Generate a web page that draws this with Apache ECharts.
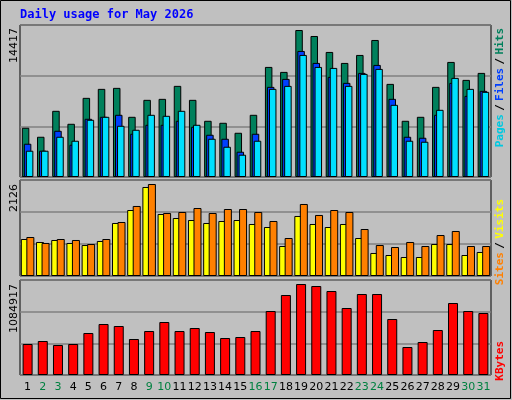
<!DOCTYPE html>
<html><head><meta charset="utf-8">
<script src="https://cdn.jsdelivr.net/npm/echarts@6/dist/echarts.min.js"></script>
<style>html,body{margin:0;padding:0;background:#c0c0c0}#c{width:512px;height:400px}</style>
</head><body><div id="c"></div>
<script>
const days = ['1','2','3','4','5','6','7','8','9','10','11','12','13','14','15','16','17','18','19','20','21','22','23','24','25','26','27','28','29','30','31'];
const weekend = ['2','3','9','10','16','17','23','24','30','31'];
const hits = [4828,3947,6491,5219,7763,8644,8742,5904,7568,7665,8938,7568,5513,5317,4338,6100,10797,10308,14417,13830,12265,11188,11971,13439,9133,5513,5904,8840,11286,9525,10210];
const files = [3262,2577,4534,3164,5709,5904,6100,4241,5121,5121,5513,4926,4143,3751,2479,4241,8840,9623,12363,11189,9819,9232,10210,10993,7666,3947,3849,6100,9232,7959,8449];
const pages = [2577,2577,3947,3556,5611,5904,5023,4632,6100,6002,6491,5121,3751,2968,2186,3556,8644,8938,11972,10797,10699,8938,10112,10602,7078,3556,3458,6589,9721,8644,8351];
const sites = [855,786,832,763,716,809,1225,1525,2057,1433,1340,1294,1225,1271,1294,1202,1132,693,1387,1202,1132,1202,878,532,485,439,439,739,739,485,555];
const visits = [901,763,855,832,739,855,1248,1618,2126,1456,1479,1571,1456,1548,1548,1479,1271,878,1664,1410,1525,1479,1086,716,670,786,693,947,1040,693,693];
const kbytes = [369582,405348,357660,369582,500724,608022,584178,429192,524568,631866,524568,560334,512646,441114,453036,524568,763008,953760,1084917,1061058,1001448,798774,965682,965682,667632,333816,393426,536490,858384,763008,739164];
const maxLabels = ['14417','2126','1084917'];

const chart = echarts.init(document.getElementById('c'));
const bs = {borderColor:'#000',borderWidth:1};
const grids = [
  {left:20,top:25,width:471,height:152},
  {left:20,top:180,width:471,height:96},
  {left:20,top:280,width:471,height:95}
];
const maxes=[14417*152/147, 2126*96/92, 1084917*95/91];
function xa(i){return {type:'category',gridIndex:i,data:days,axisTick:{show:false},axisLine:{show:false},
  axisLabel:i===2?{margin:7,fontFamily:'DejaVu Sans',fontSize:11,interval:0,formatter:v=>weekend.includes(v)?'{w|'+v+'}':'{n|'+v+'}',rich:{w:{color:'#008040',fontSize:11,fontFamily:'DejaVu Sans'},n:{color:'#000',fontSize:11,fontFamily:'DejaVu Sans'}}}:{show:false}};}
function ya(i){return {type:'value',gridIndex:i,min:0,max:maxes[i],interval:maxes[i]/3,axisLabel:{show:false},axisLine:{show:false},axisTick:{show:false},splitLine:{lineStyle:{color:'#808080',width:1.5}}};}
const sideText=(x,y,rich,txt)=>({type:'text',x:x,y:y,rotation:Math.PI/2,style:{text:txt,rich:rich,font:'bold 11px DejaVu Sans Mono',fill:'#000',align:'right',verticalAlign:'middle'}});
chart.setOption({
  animation:false,
  backgroundColor:'#c0c0c0',
  grid:grids.map(g=>Object.assign({show:true,backgroundColor:'#c0c0c0',borderColor:'#000',borderWidth:1},g)),
  xAxis:[xa(0),xa(1),xa(2)],
  yAxis:[ya(0),ya(1),ya(2)],
  graphic:[
    {type:'rect',shape:{x:0.5,y:0.5,width:510,height:398},style:{fill:'none',stroke:'#000',lineWidth:1}},
    {type:'text',x:20,y:9,style:{text:'Daily usage for May 2026',font:'bold 12px DejaVu Sans Mono',fill:'#0000ff'}},
    {type:'text',x:14,y:28,rotation:Math.PI/2,style:{text:maxLabels[0],font:'11px DejaVu Sans',fill:'#000',align:'right',verticalAlign:'middle'}},
    {type:'text',x:14,y:184,rotation:Math.PI/2,style:{text:maxLabels[1],font:'11px DejaVu Sans',fill:'#000',align:'right',verticalAlign:'middle'}},
    {type:'text',x:14,y:284,rotation:Math.PI/2,style:{text:maxLabels[2],font:'11px DejaVu Sans',fill:'#000',align:'right',verticalAlign:'middle'}},
    {type:'text',x:500,y:28,rotation:Math.PI/2,style:{text:'{p|Pages} {s|/} {f|Files} {s|/} {h|Hits}',align:'right',verticalAlign:'middle',
      rich:{p:{fill:'#00c8e0',font:'bold 11px DejaVu Sans Mono'},f:{fill:'#0040ff',font:'bold 11px DejaVu Sans Mono'},h:{fill:'#00805c',font:'bold 11px DejaVu Sans Mono'},s:{fill:'#000',font:'bold 11px DejaVu Sans Mono'}}}},
    {type:'text',x:500,y:199,rotation:Math.PI/2,style:{text:'{a|Sites} {s|/} {b|Visits}',align:'right',verticalAlign:'middle',
      rich:{a:{fill:'#ff8000',font:'bold 11px DejaVu Sans Mono'},b:{fill:'#ffff00',font:'bold 11px DejaVu Sans Mono'},s:{fill:'#000',font:'bold 11px DejaVu Sans Mono'}}}},
    {type:'text',x:500,y:341,rotation:Math.PI/2,style:{text:'KBytes',font:'bold 11px DejaVu Sans Mono',fill:'#ff0000',align:'right',verticalAlign:'middle'}}
  ],
  series:[
    {type:'bar',xAxisIndex:0,yAxisIndex:0,data:hits,barWidth:7.5,barGap:'-73%',itemStyle:Object.assign({color:'#00805c'},bs)},
    {type:'bar',xAxisIndex:0,yAxisIndex:0,data:files,barWidth:7.5,barGap:'-73%',itemStyle:Object.assign({color:'#0040ff'},bs)},
    {type:'bar',xAxisIndex:0,yAxisIndex:0,data:pages,barWidth:7.5,barGap:'-73%',itemStyle:Object.assign({color:'#00e0ff'},bs)},
    {type:'bar',xAxisIndex:1,yAxisIndex:1,data:sites,barWidth:8,barGap:'-31%',itemStyle:Object.assign({color:'#ffff00'},bs)},
    {type:'bar',xAxisIndex:1,yAxisIndex:1,data:visits,barWidth:8,barGap:'-31%',itemStyle:Object.assign({color:'#ff8000'},bs)},
    {type:'bar',xAxisIndex:2,yAxisIndex:2,data:kbytes,barWidth:10,itemStyle:Object.assign({color:'#ff0000'},bs)}
  ]
});
</script></body></html>
